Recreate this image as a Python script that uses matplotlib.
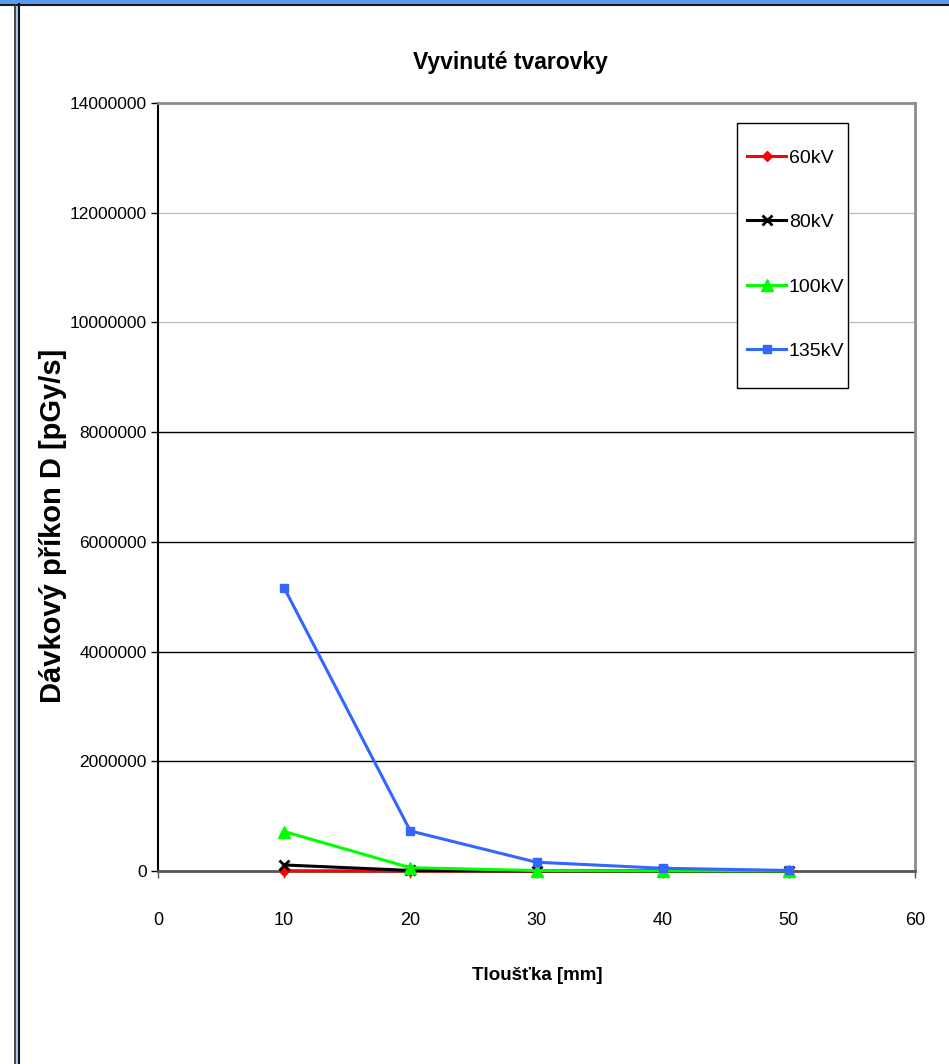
import matplotlib
matplotlib.use("Agg")
import matplotlib.pyplot as plt
from matplotlib.lines import Line2D
from matplotlib.patches import Rectangle
from matplotlib import font_manager

names = {f.name for f in font_manager.fontManager.ttflist}
if 'Liberation Sans Narrow' in names:
    plt.rcParams['font.family'] = ['Liberation Sans Narrow', 'DejaVu Sans']
    NARROW = True
else:
    plt.rcParams['font.family'] = ['Liberation Sans', 'DejaVu Sans']
    NARROW = False

thickness = [10, 20, 30, 40, 50]
series_names = ["60kV", "80kV", "100kV", "135kV"]
kv60 = [5000, 1000, 300, 100, 50]
kv80 = [110000, 10000, 2000, 500, 100]
kv100 = [720000, 60000, 8000, 2000, 500]
kv135 = [5160000, 730000, 160000, 50000, 10000]
x_ticks = [0, 10, 20, 30, 40, 50, 60]
y_ticks = [0, 2000000, 4000000, 6000000, 8000000, 10000000, 12000000, 14000000]

W, H = 949, 1064
fig = plt.figure(figsize=(W / 100, H / 100), dpi=100)

# window frame remnants
fig.add_artist(Rectangle((0, 1 - 4 / H), 1, 4 / H, transform=fig.transFigure,
                         facecolor='#5a9cf2', edgecolor='none'))
fig.add_artist(Line2D([0, 1], [1 - 5 / H, 1 - 5 / H], transform=fig.transFigure,
                      color='#1a1a1a', lw=1.5))
fig.add_artist(Rectangle((14 / W, 0), 5 / W, 1 - 4 / H, transform=fig.transFigure,
                         facecolor='#a8c8ee', edgecolor='none'))
fig.add_artist(Line2D([14.5 / W, 14.5 / W], [0, 1 - 5 / H], transform=fig.transFigure,
                      color='#333333', lw=1.2))
fig.add_artist(Line2D([18.5 / W, 18.5 / W], [0, 1 - 4 / H], transform=fig.transFigure,
                      color='#111111', lw=1.5))

left, right, top, bottom = 158, 915, 103, 871
ax = fig.add_axes([left / W, 1 - bottom / H, (right - left) / W, (bottom - top) / H])

ax.set_xlim(0, 60)
ax.set_ylim(0, 14000000)

# gridlines
for yv in y_ticks[1:-1]:
    col = '#c0c0c0' if yv >= 10000000 else '#000000'
    ax.axhline(yv, color=col, lw=1.0, zorder=0)

styles = [
    dict(color='#ff0000', marker='D', ms=5),
    dict(color='#000000', marker='x', ms=7, mew=2),
    dict(color='#00ff00', marker='^', ms=8),
    dict(color='#3366ff', marker='s', ms=6),
]
for name, vals, st in zip(series_names, [kv60, kv80, kv100, kv135], styles):
    ax.plot(thickness, vals, lw=2.2, label=name, clip_on=False, zorder=3, **st)

tick_fs = 16 if NARROW else 12.5
ax.set_xticks(x_ticks)
ax.set_yticks(y_ticks)
ax.set_xticklabels([str(v) for v in x_ticks], fontsize=tick_fs + 0.5)
ax.set_yticklabels([str(v) for v in y_ticks], fontsize=tick_fs)
ax.tick_params(axis='x', direction='out', length=5, width=1, pad=24.5, color='#555555')
ax.tick_params(axis='y', direction='out', length=5, width=1, pad=3)

for s in ['top', 'right']:
    ax.spines[s].set_color('#8c8c8c')
    ax.spines[s].set_linewidth(2)
ax.spines['left'].set_color('#000000')
ax.spines['left'].set_linewidth(1.5)
ax.spines['bottom'].set_color('#555555')
ax.spines['bottom'].set_linewidth(2)

# legend frame drawn separately (inside the axes' draw order), entries placed inside it
frame = Rectangle((737 / W, 1 - 388 / H), (848 - 737) / W, (388 - 123) / H,
                  transform=fig.transFigure, facecolor='white',
                  edgecolor='#000000', lw=1.0, zorder=4, clip_on=False)
ax.add_patch(frame)
leg_fs = 18 if NARROW else 14
fs_px = leg_fs * 100 / 72
leg = ax.legend(loc='upper left',
                bbox_to_anchor=((747 - left) / (right - left), 1 - (149 - top) / (bottom - top)),
                frameon=False, fontsize=leg_fs,
                handlelength=39 / fs_px, handletextpad=0.15,
                labelspacing=(65 - 0.93 * fs_px) / fs_px,
                borderpad=0, borderaxespad=0)
leg.set_zorder(6)

fig.text(510 / W, 1 - 62 / H, "Vyvinuté tvarovky", ha='center', va='center',
         fontsize=21 if NARROW else 16.5, fontweight='bold')
fig.text(537 / W, 1 - 975 / H, "Tloušťka [mm]", ha='center', va='center',
         fontsize=17 if NARROW else 13.5, fontweight='bold')
fig.text(53 / W, 1 - 526 / H, "Dávkový příkon D [pGy/s]", ha='center', va='center',
         rotation=90, fontsize=21, fontweight='bold')

fig.savefig("out.png", dpi=100)
